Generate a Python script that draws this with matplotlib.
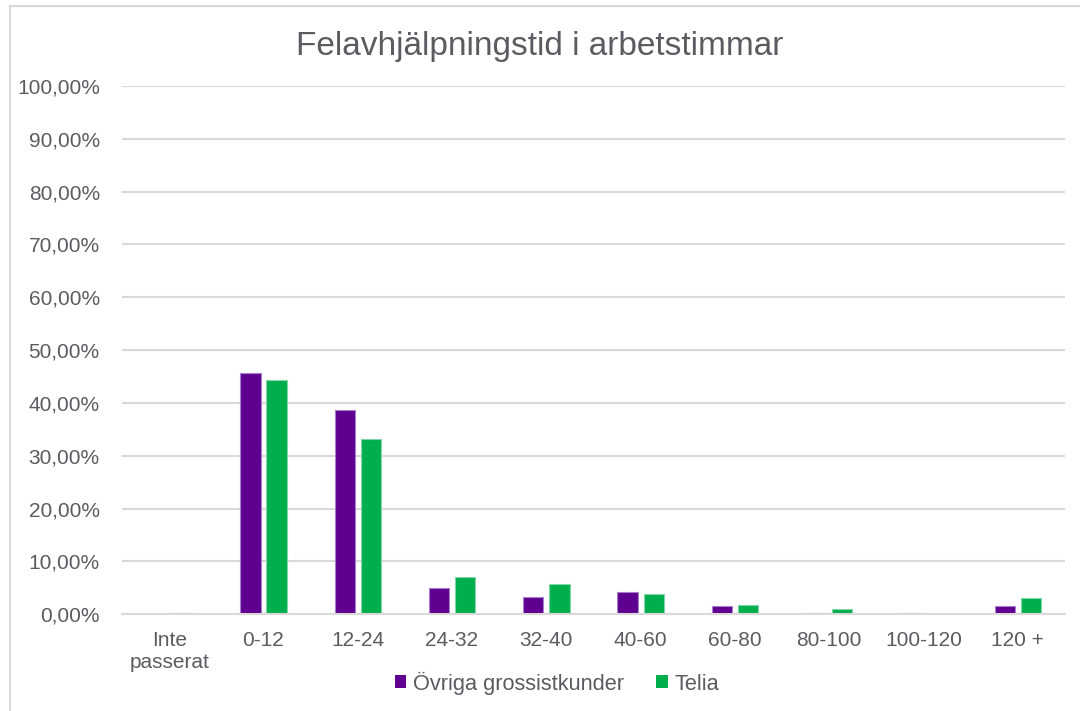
import matplotlib
matplotlib.use("Agg")
import matplotlib.pyplot as plt
from matplotlib.patches import Rectangle
from matplotlib.ticker import FuncFormatter
import numpy as np

plt.rcParams['font.family'] = ['Liberation Sans', 'DejaVu Sans']

title = "Felavhjälpningstid i arbetstimmar"
categories = ["Inte\npasserat", "0-12", "12-24", "24-32", "32-40", "40-60",
              "60-80", "80-100", "100-120", "120 +"]
series_names = ["Övriga grossistkunder", "Telia"]
ovriga = [0.0, 45.6, 38.6, 4.9, 3.2, 4.2, 1.6, 0.3, 0.3, 1.6]
telia = [0.2, 44.3, 33.1, 7.1, 5.75, 3.9, 1.7, 1.05, 0.0, 3.0]
yticks = list(range(0, 101, 10))

purple = "#5F0090"
green = "#00AE4D"
txt = "#5B5B62"
grid = "#D9D9D9"

fig = plt.figure(figsize=(10.8, 7.11), dpi=100)
ax = fig.add_axes([122/1080, 1-614.3/711, (1065-122)/1080, (614.3-86)/711])

x = np.arange(len(categories))
w = 0.215
off = 0.138
ax.bar(x - off, ovriga, w, color=purple, edgecolor="#A680C8", linewidth=0.8,
       label=series_names[0], zorder=3)
ax.bar(x + off, telia, w, color=green, edgecolor="#80D6A6", linewidth=0.8,
       label=series_names[1], zorder=3)

ax.set_xlim(-0.5, len(categories) - 0.5)
ax.set_ylim(0, 100)
ax.set_yticks(yticks)
ax.yaxis.set_major_formatter(FuncFormatter(lambda v, p: f"{v:.2f}%".replace(".", ",")))
ax.set_xticks(x)
ax.set_xticklabels(categories, linespacing=1.2)
ax.tick_params(axis='both', length=0, colors=txt, labelsize=15)
ax.tick_params(axis='y', pad=16)
ax.tick_params(axis='x', pad=12)
for lbl in ax.get_xticklabels() + ax.get_yticklabels():
    lbl.set_color(txt)
ax.grid(axis='y', color=grid, linewidth=1.5, zorder=0)
for s in ['top', 'right', 'left']:
    ax.spines[s].set_visible(False)
ax.spines['bottom'].set_color(grid)
ax.spines['bottom'].set_linewidth(1.5)
ax.spines['bottom'].set_zorder(4)

fig.text(0.5, 1-46/711, title, ha='center', va='center', fontsize=24, color=txt)

leg = fig.legend(loc='center', bbox_to_anchor=(557/1080, 1-683/711), ncol=2,
                 frameon=False, fontsize=15.7, handlelength=0.52, handleheight=0.52,
                 handletextpad=0.3, columnspacing=1.5, labelcolor=txt)
for h in leg.legend_handles:
    h.set_linewidth(0)

fig.patches.append(Rectangle((9.5/1080, -0.1), 1.2, 1.1 - 6.5/711,
                             transform=fig.transFigure, fill=False,
                             edgecolor="#D9D9D9", linewidth=1.5))

fig.savefig("out.png", dpi=100)
